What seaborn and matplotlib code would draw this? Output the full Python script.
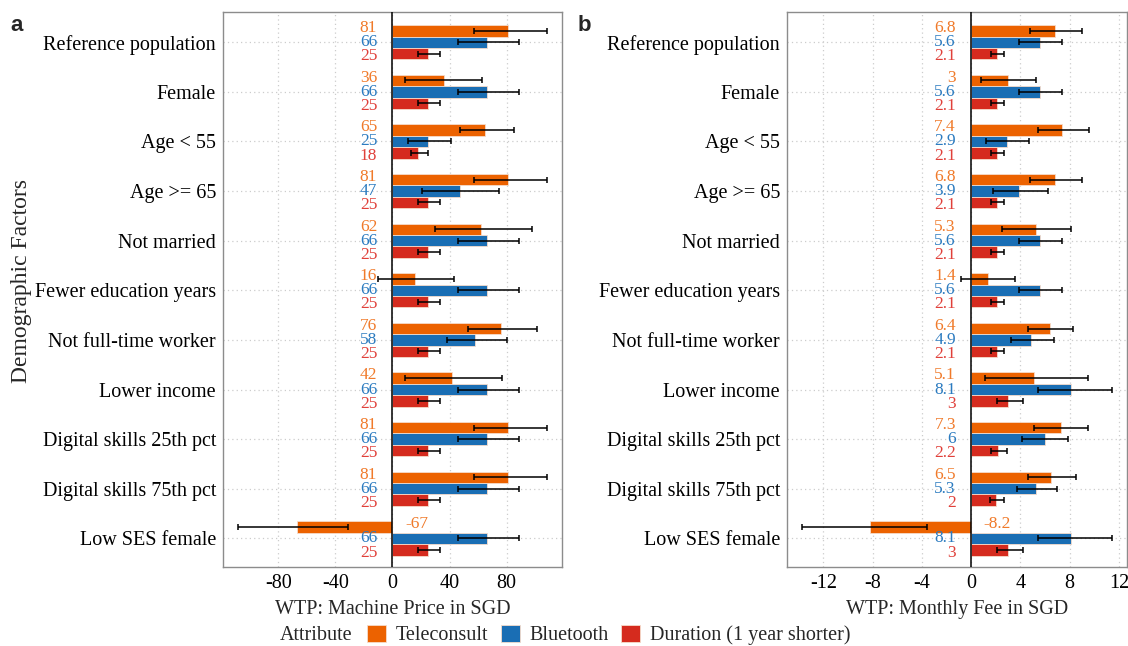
import numpy as np
import pandas as pd
import matplotlib.pyplot as plt
import seaborn as sns

# categories, top to bottom
factors = ["Reference population", "Female", "Age < 55", "Age >= 65", "Not married",
           "Fewer education years", "Not full-time worker", "Lower income",
           "Digital skills 25th pct", "Digital skills 75th pct", "Low SES female"]
attributes = ["Teleconsult", "Bluetooth", "Duration (1 year shorter)"]
colors = ["#EC6200", "#1A6EB4", "#D52B1E"]
label_colors = ["#F07A2A", "#2B7BC0", "#E0403A"]

# panel a: machine price
price_tele = [81, 36, 65, 81, 62, 16, 76, 42, 81, 81, -67]
price_tele_lo = [57, 9, 47, 57, 30, -10, 53, 9, 57, 57, -108]
price_tele_hi = [108, 63, 85, 108, 98, 43, 101, 77, 108, 108, -31]
price_blue = [66, 66, 25, 47, 66, 66, 58, 66, 66, 66, 66]
price_blue_lo = [46, 46, 11, 21, 46, 46, 38, 46, 46, 46, 46]
price_blue_hi = [89, 89, 41, 75, 89, 89, 80, 89, 89, 89, 89]
price_dur = [25, 25, 18, 25, 25, 25, 25, 25, 25, 25, 25]
price_dur_lo = [18, 18, 13, 18, 18, 18, 18, 18, 18, 18, 18]
price_dur_hi = [33, 33, 25, 33, 33, 33, 33, 33, 33, 33, 33]

# panel b: monthly fee
fee_tele = [6.8, 3, 7.4, 6.8, 5.3, 1.4, 6.4, 5.1, 7.3, 6.5, -8.2]
fee_tele_lo = [4.8, 0.8, 5.4, 4.8, 2.5, -0.8, 4.6, 1.1, 5.1, 4.6, -13.7]
fee_tele_hi = [9.0, 5.3, 9.6, 9.0, 8.1, 3.6, 8.3, 9.5, 9.5, 8.5, -3.6]
fee_blue = [5.6, 5.6, 2.9, 3.9, 5.6, 5.6, 4.9, 8.1, 6, 5.3, 8.1]
fee_blue_lo = [3.9, 3.9, 1.2, 1.8, 3.9, 3.9, 3.2, 5.4, 4.1, 3.7, 5.4]
fee_blue_hi = [7.4, 7.4, 4.7, 6.2, 7.4, 7.4, 6.7, 11.4, 7.9, 7.0, 11.4]
fee_dur = [2.1, 2.1, 2.1, 2.1, 2.1, 2.1, 2.1, 3, 2.2, 2, 3]
fee_dur_lo = [1.6, 1.6, 1.6, 1.6, 1.6, 1.6, 1.6, 2.1, 1.6, 1.5, 2.1]
fee_dur_hi = [2.7, 2.7, 2.7, 2.7, 2.7, 2.7, 2.7, 4.2, 2.9, 2.7, 4.2]

x_ticks_a = [-80, -40, 0, 40, 80]
x_ticks_b = [-12, -8, -4, 0, 4, 8, 12]

LABEL_DODGE = 0.285  # labels are spread a bit wider than the bars


def make_df(vals, los, his):
    rows = []
    for attr, v, lo, hi in zip(attributes, vals, los, his):
        for f, a, b, c in zip(factors, v, lo, hi):
            rows.append({"factor": f, "attribute": attr, "wtp": a, "lo": b, "hi": c})
    return pd.DataFrame(rows)


def fmt(v):
    return f"{v:g}"


def draw_panel(ax, df, xticks, xlabel, show_ylabel):
    sns.barplot(data=df, y="factor", x="wtp", hue="attribute", order=factors,
                hue_order=attributes, palette=colors, saturation=1, orient="h", width=0.69,
                errorbar=None, edgecolor="#f6dccb", linewidth=0.6, legend=False, ax=ax)
    centers = [b.get_y() + b.get_height() / 2 for b in ax.containers[1]]
    for j, (attr, cont) in enumerate(zip(attributes, ax.containers)):
        sub = df[df["attribute"] == attr].set_index("factor").loc[factors]
        ys = [b.get_y() + b.get_height() / 2 for b in cont]
        xerr = [sub["wtp"] - sub["lo"], sub["hi"] - sub["wtp"]]
        ax.errorbar(sub["wtp"], ys, xerr=xerr, fmt="none", ecolor="black",
                    elinewidth=1.1, capsize=2.3, capthick=1.1, zorder=4)
        for c, v in zip(centers, sub["wtp"]):
            off = -11 if v >= 0 else 9
            ax.annotate(fmt(v), (0, c + (j - 1) * LABEL_DODGE), xytext=(off, 0),
                        textcoords="offset points",
                        ha="right" if v >= 0 else "left", va="center",
                        color=label_colors[j], fontsize=12.5)
    lo = df["lo"].min()
    hi = df["hi"].max()
    pad = (hi - lo) * 0.05
    ax.set_xlim(lo - pad, hi + pad)
    ax.set_ylim(len(factors) - 0.43, -0.61)
    ax.axvline(0, color="black", linewidth=1.1, zorder=3)
    ax.set_xticks(xticks)
    ax.set_xticklabels([str(t) for t in xticks])
    ax.grid(True, linestyle=(0, (1, 2.5)), color="#cccccc", linewidth=0.9)
    ax.set_axisbelow(True)
    for s in ax.spines.values():
        s.set_color("#8c8c8c")
        s.set_linewidth(1.0)
    ax.tick_params(axis="both", length=3, width=0.8, color="#444444", labelsize=14.5,
                   labelcolor="black", pad=2)
    ax.set_xlabel(xlabel, fontsize=14.5, labelpad=5)
    ax.set_ylabel("Demographic Factors" if show_ylabel else "", fontsize=17)


sns.set_theme(style="white")
plt.rcParams["font.family"] = ["Liberation Serif", "DejaVu Serif"]

fig = plt.figure(figsize=(11.28, 6.46), dpi=100)
ax1 = fig.add_axes([0.1977, 0.1228, 0.3005, 0.8587])
ax2 = fig.add_axes([0.6977, 0.1228, 0.3014, 0.8587])

df_a = make_df([price_tele, price_blue, price_dur],
               [price_tele_lo, price_blue_lo, price_dur_lo],
               [price_tele_hi, price_blue_hi, price_dur_hi])
df_b = make_df([fee_tele, fee_blue, fee_dur],
               [fee_tele_lo, fee_blue_lo, fee_dur_lo],
               [fee_tele_hi, fee_blue_hi, fee_dur_hi])

draw_panel(ax1, df_a, x_ticks_a, "WTP: Machine Price in SGD", True)
draw_panel(ax2, df_b, x_ticks_b, "WTP: Monthly Fee in SGD", False)
ax1.yaxis.set_label_coords(-0.563, 0.515)

fig.text(0.009, 0.952, "a", fontsize=16, fontweight="bold", family="Liberation Sans")
fig.text(0.512, 0.952, "b", fontsize=16, fontweight="bold", family="Liberation Sans")

# legend: title sits inline to the left of the keys
fig.text(280 / 1128, 0.017, "Attribute", fontsize=14.5, ha="left", va="center")
handles = [plt.Rectangle((0, 0), 1, 1, facecolor=c, edgecolor="#f6dccb", linewidth=0.6)
           for c in colors]
fig.legend(handles, attributes, loc="center left", bbox_to_anchor=(367 / 1128, 0.017),
           ncol=3, frameon=False, fontsize=14.5, handlelength=0.95, handleheight=0.95,
           handletextpad=0.45, columnspacing=0.65, borderpad=0, borderaxespad=0)

fig.savefig("out.png", dpi=100)
